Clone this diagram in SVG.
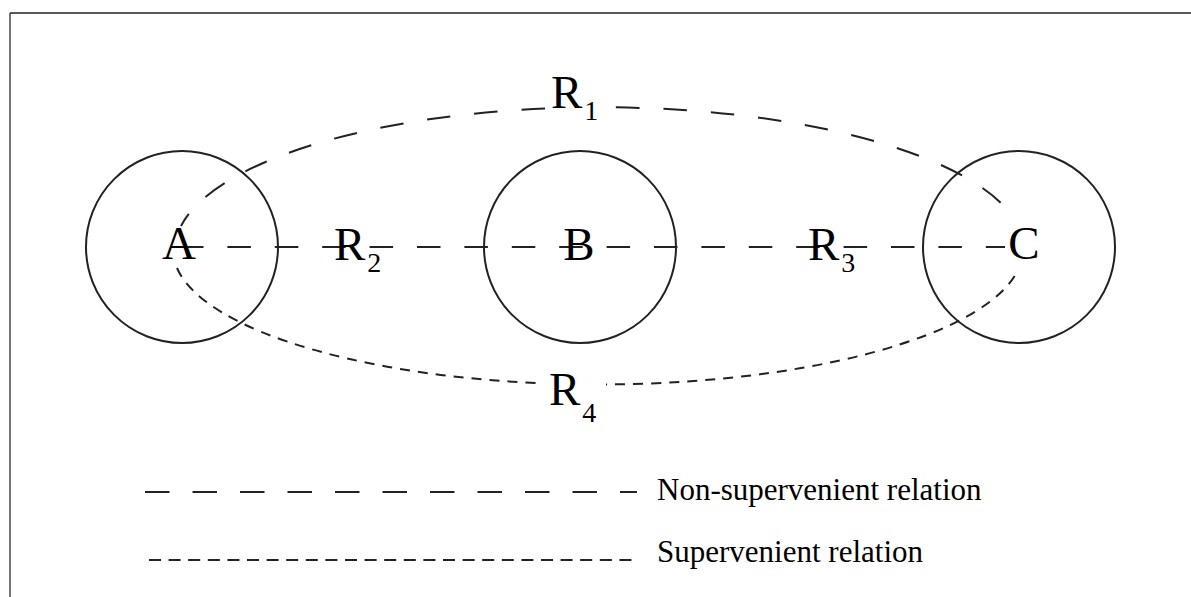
<svg xmlns="http://www.w3.org/2000/svg" width="1191" height="597" viewBox="0 0 1191 597">
<style>
.node{fill:none;stroke:#222;stroke-width:2}
.ns{fill:none;stroke:#222;stroke-width:2;stroke-dasharray:23.5 23.9}
.sv{fill:none;stroke:#222;stroke-width:2;stroke-dasharray:10 8}
.lbl{font-family:"Liberation Serif","Times New Roman",serif;font-size:47px;fill:#000}
.sub{font-size:28px}
.leg{font-family:"Liberation Serif","Times New Roman",serif;font-size:31px;fill:#000}
.mask{fill:#fff;stroke:none}
</style>
<rect width="1191" height="597" fill="#fff"/>
<path d="M10,597 V13" stroke="#777" stroke-width="2" fill="none"/>
<path d="M10,13 H1191" stroke="#222" stroke-width="1.5" fill="none"/>
<g id="connectors">
<path id="R1" class="ns" d="M181,226 A425,143 0 0 1 1002,204" stroke-dashoffset="9"/>
<path id="R4" class="sv" d="M177,268 A425,135 0 0 0 1017,272"/>
<path id="R2R3" class="ns" d="M180,247 H1005"/>
<rect class="mask" x="545" y="96" width="66" height="24"/>
<rect class="mask" x="542" y="376" width="64" height="18"/>
</g>
<g id="A"><circle class="node" cx="182" cy="247" r="96"/><text class="lbl" x="179" y="259" text-anchor="middle">A</text></g>
<g id="B"><circle class="node" cx="580" cy="247" r="96"/><text class="lbl" x="579" y="260" text-anchor="middle">B</text></g>
<g id="C"><circle class="node" cx="1019" cy="247" r="96"/><text class="lbl" x="1024" y="259" text-anchor="middle">C</text></g>
<g id="labels">
<text class="lbl" x="551" y="108">R<tspan class="sub" dx="2" dy="12">1</tspan></text>
<text class="lbl" x="334" y="260">R<tspan class="sub" dx="2" dy="12">2</tspan></text>
<text class="lbl" x="808" y="260">R<tspan class="sub" dx="2" dy="12">3</tspan></text>
<text class="lbl" x="549" y="405">R<tspan class="sub" dx="2" dy="17">4</tspan></text>
</g>
<g id="legend">
<path class="ns" d="M145,492 H637" style="stroke-dasharray:24.5 23"/>
<text class="leg" x="657" y="500">Non-supervenient relation</text>
<path class="sv" d="M149,560 H633" style="stroke-dasharray:12 7.6"/>
<text class="leg" x="657" y="562">Supervenient relation</text>
</g>
</svg>
